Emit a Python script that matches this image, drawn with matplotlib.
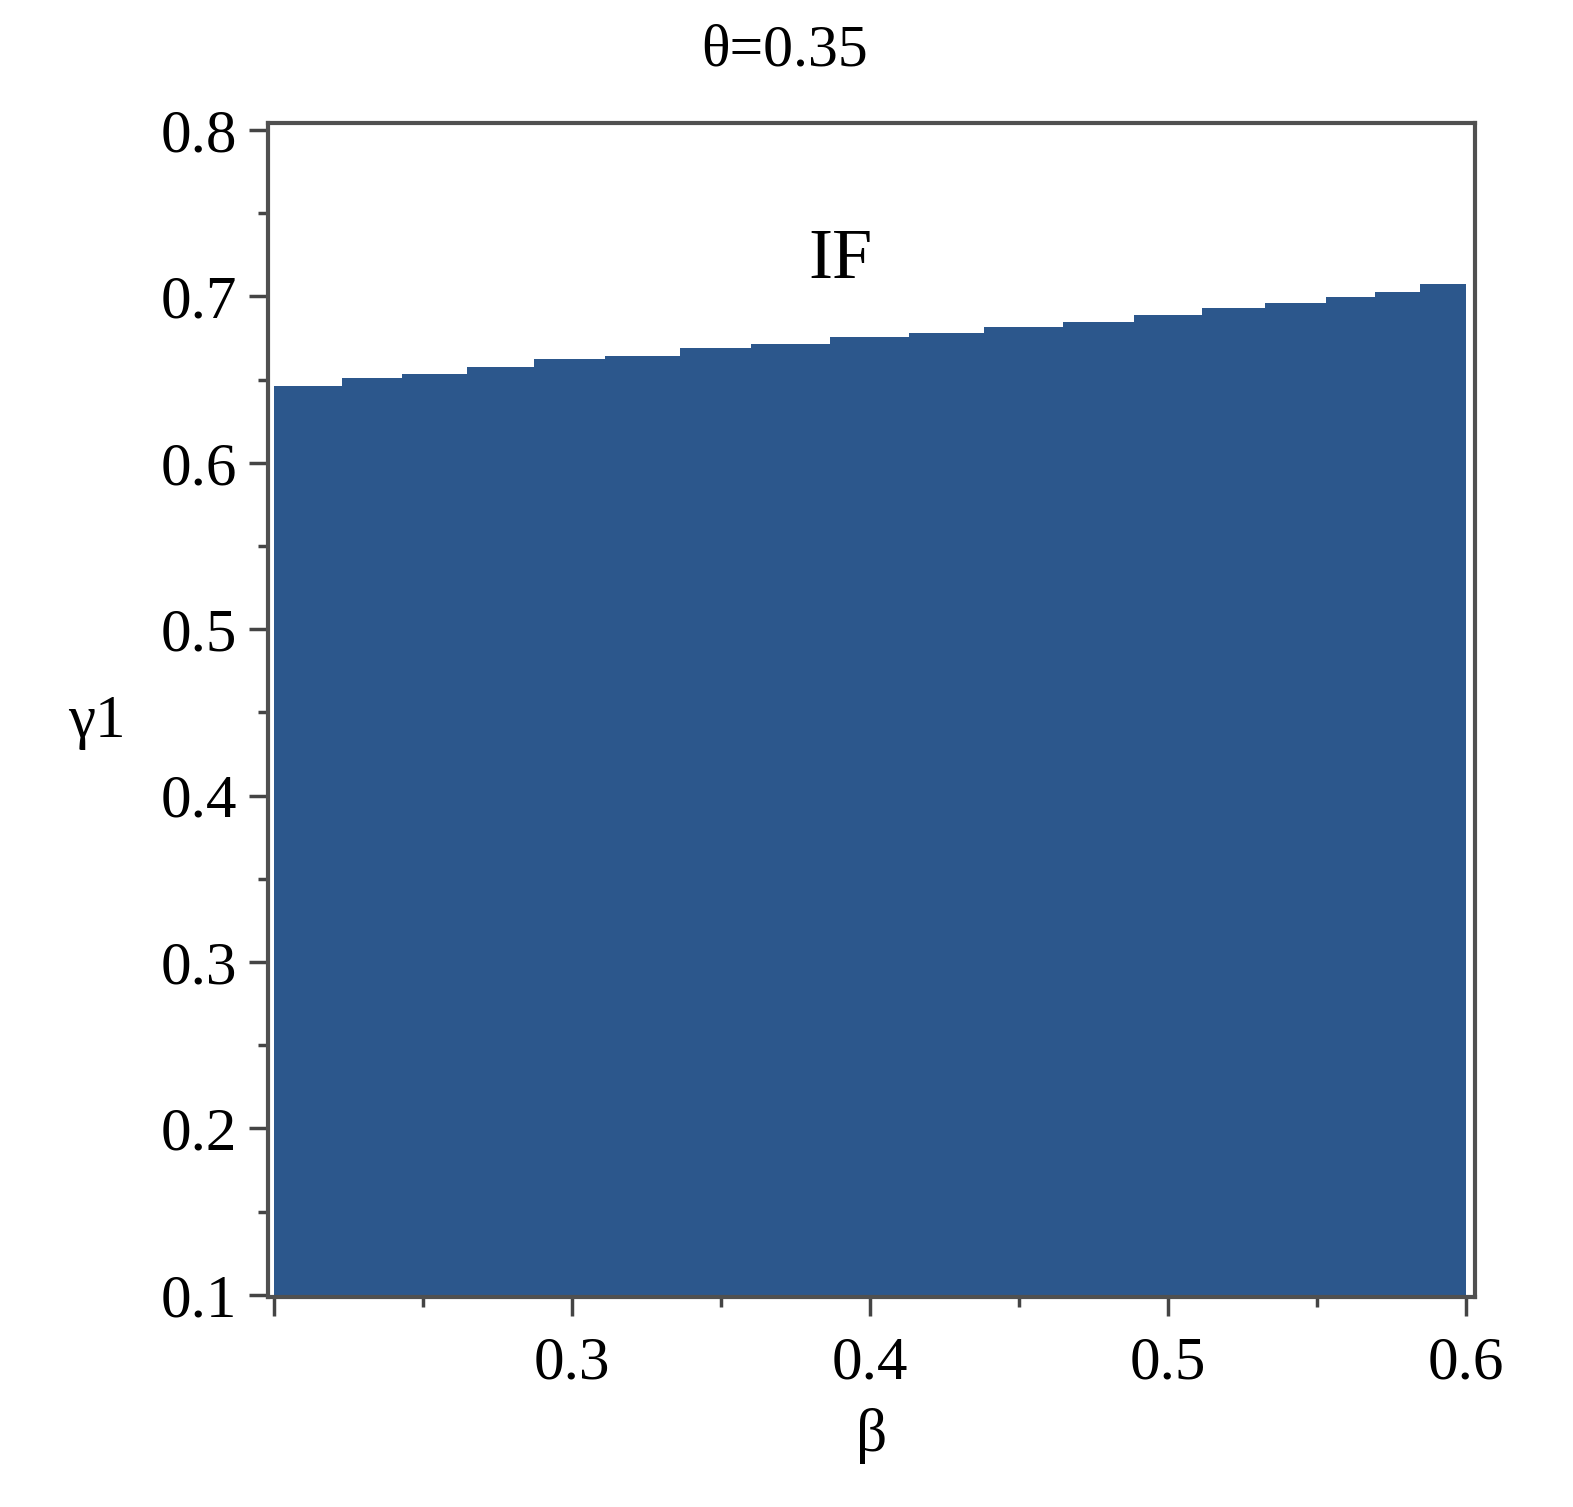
import matplotlib.pyplot as plt
import numpy as np

plt.rcParams['font.family'] = ['Liberation Serif', 'DejaVu Serif']

# 区域上边界（阶梯状），左端点与对应的γ1值
step_x = [0.200, 0.2227, 0.2430, 0.2646, 0.2871, 0.3111, 0.3361, 0.3601, 0.3866, 0.4131,
          0.4383, 0.4646, 0.4886, 0.5114, 0.5327, 0.5529, 0.5693, 0.5847, 0.600]
step_y = [0.6462, 0.6510, 0.6534, 0.6576, 0.6624, 0.6642, 0.6690, 0.6714, 0.6756, 0.6780,
          0.6818, 0.6848, 0.6888, 0.6930, 0.6962, 0.6998, 0.7028, 0.7075, 0.7088]
y_low = 0.1
x_ticks = [0.2, 0.3, 0.4, 0.5, 0.6]
x_labels = ['', '0.3', '0.4', '0.5', '0.6']
y_ticks = [0.1, 0.2, 0.3, 0.4, 0.5, 0.6, 0.7, 0.8]

fig = plt.figure(figsize=(15.73, 15.07), dpi=100)
ax = fig.add_axes([0.1704, 0.1394, 0.7673, 0.7790])

ax.fill_between(step_x, y_low, step_y, step='post', color='#2c578c', lw=0)

ax.set_xlim(0.198, 0.603)
ax.set_ylim(0.0987, 0.8042)
ax.set_xticks(x_ticks)
ax.set_xticklabels(x_labels)
ax.set_yticks(y_ticks)
ax.set_xticks(np.arange(0.25, 0.6, 0.1), minor=True)
ax.set_yticks(np.arange(0.15, 0.8, 0.1), minor=True)
ax.tick_params(axis='both', which='major', direction='out', length=14, width=2.5,
               color='#444444', labelsize=44, pad=8)
ax.tick_params(axis='both', which='minor', direction='out', length=7, width=2.5,
               color='#444444')
ax.tick_params(axis='x', which='major', pad=14)
for s in ax.spines.values():
    s.set_color('#505050')
    s.set_linewidth(3)

ax.text(0.390, 0.7213, 'IF', fontsize=52, ha='center', va='center')
fig.text(785 / 1573, 1 - 52 / 1507, 'θ=0.35', fontsize=43, ha='center', va='center')
fig.text(97 / 1573, 1 - 722 / 1507, 'γ1', fontsize=44, ha='center', va='center')
fig.text(872 / 1573, 1 - 1436 / 1507, 'β', fontsize=44, ha='center', va='center')

fig.savefig('out.png', dpi=100)
